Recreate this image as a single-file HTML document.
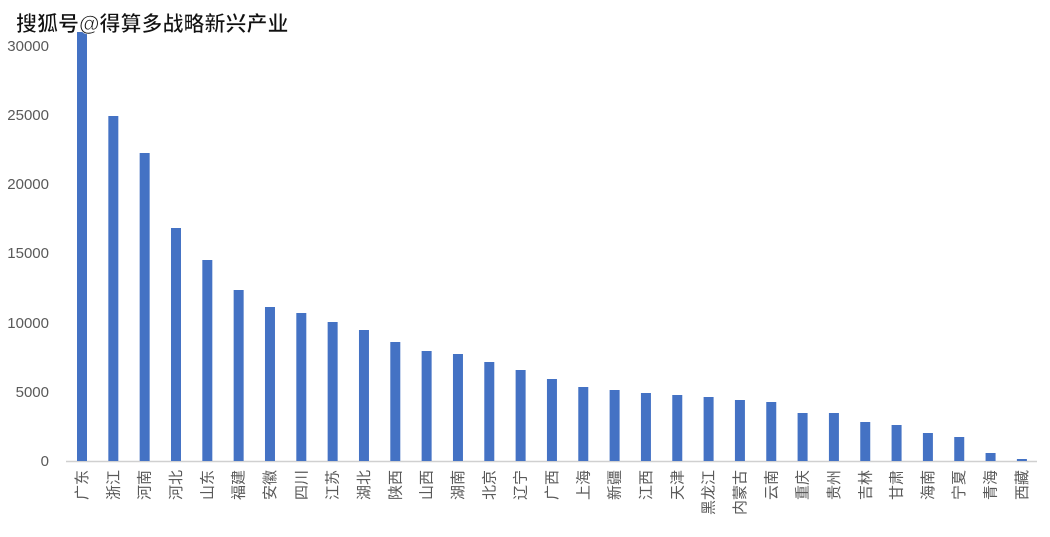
<!DOCTYPE html>
<html><head><meta charset="utf-8"><style>
body{margin:0;background:#fff;width:1050px;height:537px;overflow:hidden}
svg{display:block}
text{font-family:"Liberation Sans","Noto Sans CJK SC",sans-serif}
</style></head><body>
<svg width="1050" height="537" xmlns="http://www.w3.org/2000/svg">
<g fill="#595959" font-size="15" text-anchor="end">
<text x="49" y="466">0</text>
<text x="49" y="397">5000</text>
<text x="49" y="328">10000</text>
<text x="49" y="258">15000</text>
<text x="49" y="189">20000</text>
<text x="49" y="120">25000</text>
<text x="49" y="51">30000</text>
</g>
<line x1="66" y1="461.5" x2="1037" y2="461.5" stroke="#d0d0d0" stroke-width="1.5"/>
<g id="bars" fill="#4472c4"></g>
<g id="labels" fill="#595959" font-size="15"></g>
<text x="16" y="31" font-size="21" font-weight="bold" fill="#111" stroke="#fff" stroke-width="0.6" font-family="'Noto Sans CJK SC',sans-serif">搜狐号@得算多战略新兴产业</text>
<script>
var n=["广东","浙江","河南","河北","山东","福建","安徽","四川","江苏","湖北","陕西","山西","湖南","北京","辽宁","广西","上海","新疆","江西","天津","黑龙江","内蒙古","云南","重庆","贵州","吉林","甘肃","海南","宁夏","青海","西藏"];
var t=[32,116,153,228,260,290,307,313,322,330,342,351,354,362,370,379,387,390,393,395,397,400,402,413,413,422,425,433,437,453,459];
var b=document.getElementById("bars"),l=document.getElementById("labels"),ns="http://www.w3.org/2000/svg";
for(var i=0;i<31;i++){var cx=82+i*31.33;
var r=document.createElementNS(ns,"rect");r.setAttribute("x",cx-5);r.setAttribute("y",t[i]);r.setAttribute("width",10);r.setAttribute("height",461-t[i]);b.appendChild(r);
var tx=document.createElementNS(ns,"text");tx.setAttribute("transform","translate("+(cx+5)+",470) rotate(-90)");tx.setAttribute("text-anchor","end");tx.textContent=n[i];l.appendChild(tx);}
</script>
</svg>
</body></html>
